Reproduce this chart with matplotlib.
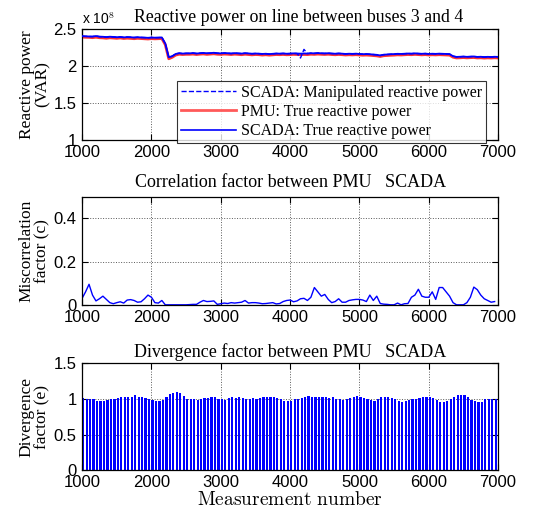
import numpy as np
import matplotlib
matplotlib.use('Agg')
import matplotlib.pyplot as plt

plt.rcParams['mathtext.fontset'] = 'cm'

SERIF = 'Liberation Serif'
SANS = 'Liberation Sans'

# reactive power (x 1e8 VAR), one sample every 50 measurements, 1000..7000
scada_true = [
    2.400, 2.398, 2.396, 2.395, 2.402, 2.394, 2.392, 2.388, 2.393, 2.390,
    2.386, 2.390, 2.384, 2.388, 2.386, 2.382, 2.386, 2.383, 2.381, 2.378,
    2.382, 2.380, 2.381, 2.383, 2.300,
    2.115, 2.13, 2.16, 2.17, 2.165, 2.168,
    2.168, 2.172, 2.166, 2.170, 2.174, 2.169, 2.171, 2.176, 2.170, 2.168,
    2.172, 2.170, 2.166, 2.171, 2.168, 2.165, 2.170, 2.167, 2.163, 2.166,
    2.164, 2.160, 2.163, 2.158, 2.162, 2.166, 2.164, 2.167, 2.163, 2.165,
    2.168, 2.166, 2.164, 2.167, 2.165, 2.170, 2.168, 2.172, 2.169, 2.167,
    2.170, 2.166, 2.163, 2.167, 2.164, 2.160, 2.163, 2.161, 2.164, 2.160,
    2.157, 2.159, 2.156, 2.152, 2.148, 2.140, 2.150, 2.153, 2.156, 2.158,
    2.162, 2.160, 2.163, 2.166, 2.164, 2.168, 2.165, 2.162, 2.165, 2.160,
    2.163, 2.161, 2.164, 2.162, 2.160, 2.158, 2.130, 2.120, 2.122, 2.125,
    2.121, 2.124, 2.126, 2.120, 2.122, 2.118, 2.121, 2.119, 2.122, 2.120,
]
pmu_true = [
    2.388, 2.385, 2.384, 2.380, 2.386, 2.379, 2.377, 2.372, 2.378, 2.375,
    2.371, 2.376, 2.369, 2.373, 2.370, 2.366, 2.371, 2.368, 2.365, 2.362,
    2.367, 2.364, 2.366, 2.368, 2.285,
    2.095, 2.115, 2.145, 2.156, 2.152, 2.155,
    2.155, 2.158, 2.152, 2.157, 2.160, 2.154, 2.158, 2.162, 2.156, 2.154,
    2.158, 2.156, 2.152, 2.157, 2.154, 2.150, 2.156, 2.152, 2.148, 2.152,
    2.150, 2.145, 2.149, 2.144, 2.148, 2.152, 2.150, 2.153, 2.149, 2.151,
    2.154, 2.152, 2.150, 2.153, 2.151, 2.156, 2.154, 2.158, 2.155, 2.153,
    2.156, 2.152, 2.149, 2.153, 2.150, 2.146, 2.149, 2.147, 2.150, 2.146,
    2.143, 2.145, 2.142, 2.138, 2.134, 2.126, 2.136, 2.139, 2.142, 2.144,
    2.148, 2.146, 2.149, 2.152, 2.150, 2.154, 2.151, 2.148, 2.151, 2.146,
    2.149, 2.147, 2.150, 2.148, 2.146, 2.144, 2.116, 2.106, 2.108, 2.111,
    2.107, 2.110, 2.112, 2.106, 2.108, 2.104, 2.107, 2.105, 2.108, 2.106,
]
# manipulated SCADA = true SCADA except the short spike near 4200
scada_manip = list(scada_true)
scada_manip[63] = 2.105
scada_manip[64] = 2.222

# miscorrelation factor, 1000..6950
miscorr = [
    0.030, 0.060, 0.095, 0.045, 0.018, 0.028, 0.040, 0.025, 0.010, 0.005,
    0.010, 0.014, 0.008, 0.022, 0.024, 0.020, 0.012, 0.014, 0.028, 0.045,
    0.035, 0.010, 0.008, 0.020, 0.000, 0.000, 0.000, 0.000, 0.000, 0.000,
    0.000, 0.001, 0.002, 0.002, 0.012, 0.020, 0.015, 0.016, 0.018, 0.002,
    0.005, 0.008, 0.006, 0.010, 0.008, 0.010, 0.012, 0.020, 0.008, 0.010,
    0.010, 0.008, 0.005, 0.006, 0.008, 0.010, 0.004, 0.006, 0.015, 0.020,
    0.022, 0.014, 0.018, 0.028, 0.030, 0.020, 0.035, 0.080, 0.060, 0.040,
    0.048, 0.025, 0.010, 0.015, 0.028, 0.012, 0.012, 0.020, 0.023, 0.025,
    0.025, 0.022, 0.015, 0.045, 0.020, 0.040, 0.006, 0.003, 0.002, 0.000,
    0.000, 0.008, 0.000, 0.005, 0.006, 0.035, 0.045, 0.072, 0.040, 0.035,
    0.035, 0.060, 0.025, 0.080, 0.080, 0.060, 0.040, 0.010, 0.000, 0.000,
    0.000, 0.010, 0.035, 0.082, 0.070, 0.045, 0.028, 0.020, 0.012, 0.015,
]

# divergence factor, 1000..6950
diverg = [
    1.01, 1.00, 1.00, 0.99, 0.97, 0.97, 0.97, 0.98, 1.00, 1.00,
    1.01, 1.02, 1.02, 1.03, 1.03, 1.05, 1.03, 1.02, 1.01, 1.00,
    0.98, 0.97, 0.97, 0.98, 1.02, 1.07, 1.08, 1.09, 1.08, 1.04,
    1.00, 0.99, 0.99, 0.98, 1.00, 1.01, 1.01, 1.02, 1.02, 0.99,
    1.00, 0.98, 1.01, 1.02, 1.01, 1.02, 1.01, 1.00, 1.00, 1.01,
    0.99, 1.01, 1.02, 1.02, 1.03, 1.02, 1.01, 0.99, 0.97, 0.97,
    0.97, 0.99, 1.00, 1.01, 1.02, 1.04, 1.03, 1.02, 1.02, 1.03,
    1.02, 1.01, 1.02, 0.99, 0.99, 0.98, 1.00, 1.01, 1.02, 1.04,
    1.03, 1.01, 0.99, 0.98, 0.97, 1.00, 1.02, 1.03, 1.02, 1.01,
    0.99, 0.97, 0.96, 0.97, 0.98, 0.99, 0.99, 1.01, 1.02, 1.03,
    1.03, 1.01, 0.98, 0.96, 0.96, 0.97, 0.99, 1.02, 1.05, 1.05,
    1.05, 1.03, 0.98, 0.97, 0.96, 0.96, 0.99, 1.00, 1.00, 0.99,
]

x_pow = 1000 + 50 * np.arange(len(scada_true))
x_cor = 1000 + 50 * np.arange(len(miscorr))
x_div = 1000 + 50 * np.arange(len(diverg))

XTICKS = [1000, 2000, 3000, 4000, 5000, 6000, 7000]


def style(ax, yticks, ylim):
    ax.set_xlim(1000, 7000)
    ax.set_ylim(*ylim)
    ax.set_xticks(XTICKS)
    ax.set_yticks(yticks)
    ax.set_yticklabels([f"{t:g}" for t in yticks])
    ax.tick_params(direction='in', top=True, right=True, labelsize=12,
                   length=4, width=0.8, pad=4)
    ax.tick_params(axis='x', pad=3.5)
    for lab in ax.get_xticklabels() + ax.get_yticklabels():
        lab.set_fontfamily(SANS)
    ax.grid(True, ls=':', color='0.35', lw=0.7)
    ax.set_axisbelow(True)
    for s in ax.spines.values():
        s.set_linewidth(0.9)


fig = plt.figure(figsize=(5.51, 5.14), dpi=100)
L, W = 0.149, 0.755
ax1 = fig.add_axes([L, 0.728, W, 0.216])
ax2 = fig.add_axes([L, 0.407, W, 0.210])
ax3 = fig.add_axes([L, 0.085, W, 0.209])

# top panel
ax1.plot(x_pow, pmu_true, color=(1, 0.2, 0.2), lw=2.0, zorder=2)
ax1.plot(x_pow, scada_true, color='b', lw=1.3, zorder=3)
ax1.plot(x_pow, scada_manip, color='b', lw=1.0, ls='--', zorder=4)
style(ax1, [1, 1.5, 2, 2.5], (1, 2.5))
ax1.set_title("Reactive power on line between buses 3 and 4", fontfamily=SERIF,
              fontsize=12.8, pad=5, x=0.52)
ax1.set_ylabel("Reactive power\n(VAR)", fontfamily=SERIF, fontsize=12.5,
               linespacing=1.0, labelpad=2)
ax1.text(0.0, 1.015, r"x 10$^{8}$", transform=ax1.transAxes, fontfamily=SANS,
         fontsize=10, ha='left', va='bottom')
h_manip, = ax1.plot([], [], color='b', ls='--', lw=1.0)
h_pmu, = ax1.plot([], [], color=(1, 0.35, 0.35), lw=2.0)
h_true, = ax1.plot([], [], color='b', lw=1.2)
leg = ax1.legend([h_manip, h_pmu, h_true],
                 ["SCADA: Manipulated reactive power", "PMU: True reactive power",
                  "SCADA: True reactive power"],
                 loc='lower right', bbox_to_anchor=(0.97, -0.03),
                 prop={'family': SERIF, 'size': 11.5}, frameon=True, fancybox=False,
                 handlelength=3.4, borderpad=0.25, labelspacing=0.2,
                 handletextpad=0.3, borderaxespad=0)
leg.get_frame().set_edgecolor('black')
leg.get_frame().set_linewidth(0.8)

# middle panel
ax2.plot(x_cor, miscorr, color='b', lw=1.0)
style(ax2, [0, 0.2, 0.4], (0, 0.5))
ax2.set_title("Correlation factor between PMU   SCADA", fontfamily=SERIF,
              fontsize=13, pad=7)
ax2.set_ylabel("Miscorrelation\nfactor (c)", fontfamily=SERIF, fontsize=12.5,
               linespacing=1.0, labelpad=2)

# bottom panel
ax3.bar(x_div, diverg, width=32, align='edge', color='b', edgecolor='none')
style(ax3, [0, 0.5, 1, 1.5], (0, 1.5))
ax3.set_title("Divergence factor between PMU   SCADA", fontfamily=SERIF,
              fontsize=13, pad=4)
ax3.set_ylabel("Divergence\nfactor (e)", fontfamily=SERIF, fontsize=12.5,
               linespacing=1.0, labelpad=2)
ax3.set_xlabel(r"$\mathrm{Measurement\ number}$", fontsize=14, labelpad=0)

fig.savefig("out.png", dpi=100)
